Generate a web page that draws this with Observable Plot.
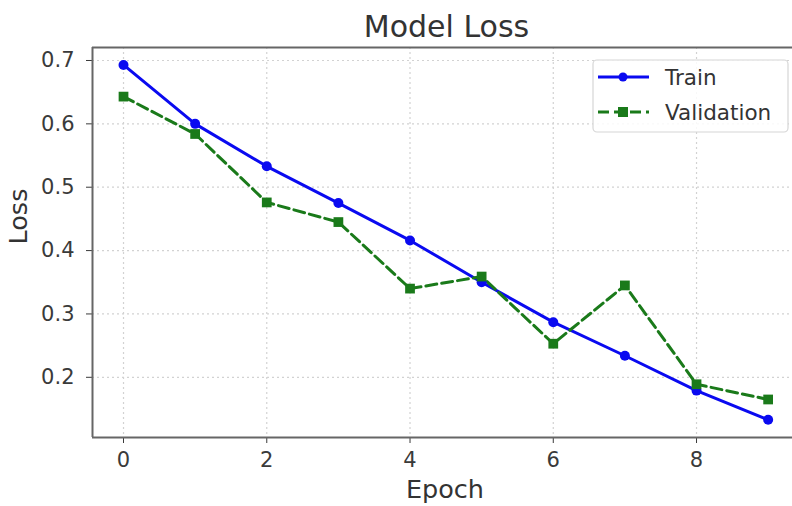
<!DOCTYPE html>
<html><head><meta charset="utf-8">
<script src="https://cdn.jsdelivr.net/npm/d3@7"></script>
<script src="https://cdn.jsdelivr.net/npm/@observablehq/plot@0.6"></script>
<style>
html,body{margin:0;padding:0;background:#fff;}
#wrap{position:relative;width:792px;height:506px;overflow:hidden;font-family:"DejaVu Sans",sans-serif;}
#legend{position:absolute;left:0;top:0;pointer-events:none;}
</style></head><body><div id="wrap"></div>
<script>
const epochs = [0, 1, 2, 3, 4, 5, 6, 7, 8, 9];
const trainLoss = [0.693, 0.600, 0.533, 0.475, 0.416, 0.350, 0.287, 0.234, 0.179, 0.133];
const valLoss = [0.643, 0.584, 0.476, 0.445, 0.340, 0.359, 0.253, 0.345, 0.189, 0.165];
const seriesNames = ["Train", "Validation"];
const seriesColors = ["#0a0af0", "#1a7a1a"];
const xTicks = [0, 2, 4, 6, 8];
const yTicks = [0.2, 0.3, 0.4, 0.5, 0.6, 0.7];
const titleText = "Model Loss";
const xLabel = "Epoch";
const yLabel = "Loss";
const xDomain = [-0.433, 9.34];
const yDomain = [0.105, 0.7205];

const train = epochs.map((e, i) => ({epoch: e, loss: trainLoss[i], series: seriesNames[0]}));
const val = epochs.map((e, i) => ({epoch: e, loss: valLoss[i], series: seriesNames[1]}));

const gridStyle = {stroke: "#d2d2d2", strokeDasharray: "2,3", strokeWidth: 1.2};
const frameStyle = {stroke: "#666", strokeWidth: 2};

const chart = Plot.plot({
  width: 792, height: 506,
  marginLeft: 92, marginRight: 0, marginTop: 47, marginBottom: 69,
  style: {fontFamily: '"DejaVu Sans", sans-serif', fontSize: "21px", color: "#3a3a3a", background: "white", overflow: "visible"},
  x: {domain: xDomain, ticks: xTicks, tickFormat: d => String(d), tickSize: 6, tickPadding: 9, label: null},
  y: {domain: yDomain, ticks: yTicks, tickFormat: d => d.toFixed(1), tickSize: 6, tickPadding: 12, label: null},
  marks: [
    Plot.ruleY(yTicks, gridStyle),
    Plot.ruleX(xTicks, gridStyle),
    Plot.line(train, {x: "epoch", y: "loss", stroke: seriesColors[0], strokeWidth: 3}),
    Plot.line(val, {x: "epoch", y: "loss", stroke: seriesColors[1], strokeWidth: 3, strokeDasharray: "11,5"}),
    Plot.dot(train, {x: "epoch", y: "loss", r: 5, fill: seriesColors[0], symbol: "circle"}),
    Plot.dot(val, {x: "epoch", y: "loss", r: 5.5, fill: seriesColors[1], symbol: "square"}),
    Plot.ruleX([xDomain[0]], frameStyle),
    Plot.ruleY([yDomain[0]], frameStyle),
    Plot.ruleY([yDomain[1]], frameStyle),
    Plot.text([titleText], {frameAnchor: "top", dx: 4, dy: -11, lineAnchor: "bottom", fontSize: 30, fill: "#333"}),
    Plot.text([xLabel], {frameAnchor: "bottom", dx: 2.5, dy: 60, lineAnchor: "bottom", fontSize: 25.5, fill: "#333"}),
    Plot.text([yLabel], {frameAnchor: "left", dx: -66, dy: 2, rotate: -90, lineAnchor: "bottom", fontSize: 25.5, fill: "#333"})
  ]
});
const wrap = document.getElementById("wrap");
wrap.appendChild(chart);

// Legend overlay
const ns = "http://www.w3.org/2000/svg";
const lg = document.createElementNS(ns, "svg");
lg.setAttribute("id", "legend");
lg.setAttribute("width", 792);
lg.setAttribute("height", 506);
const box = document.createElementNS(ns, "rect");
Object.entries({x: 593, y: 60, width: 195, height: 72, rx: 4, fill: "white", "fill-opacity": 0.85, stroke: "#d6d6d6", "stroke-width": 1.2}).forEach(([k, v]) => box.setAttribute(k, v));
lg.appendChild(box);
seriesNames.forEach((name, i) => {
  const cy = 77 + i * 35;
  const ln = document.createElementNS(ns, "line");
  Object.entries({x1: 598, x2: 649, y1: cy, y2: cy, stroke: seriesColors[i], "stroke-width": 3}).forEach(([k, v]) => ln.setAttribute(k, v));
  if (i === 1) ln.setAttribute("stroke-dasharray", "11,5");
  lg.appendChild(ln);
  let m;
  if (i === 0) {
    m = document.createElementNS(ns, "circle");
    Object.entries({cx: 623, cy: cy, r: 4.5, fill: seriesColors[i]}).forEach(([k, v]) => m.setAttribute(k, v));
  } else {
    m = document.createElementNS(ns, "rect");
    Object.entries({x: 618, y: cy - 5, width: 10, height: 10, fill: seriesColors[i]}).forEach(([k, v]) => m.setAttribute(k, v));
  }
  lg.appendChild(m);
  const t = document.createElementNS(ns, "text");
  Object.entries({x: 665, y: cy, "dominant-baseline": "central", "font-size": 21.5, fill: "#333", "font-family": '"DejaVu Sans", sans-serif'}).forEach(([k, v]) => t.setAttribute(k, v));
  t.textContent = name;
  lg.appendChild(t);
});
wrap.appendChild(lg);
</script>
</body></html>
